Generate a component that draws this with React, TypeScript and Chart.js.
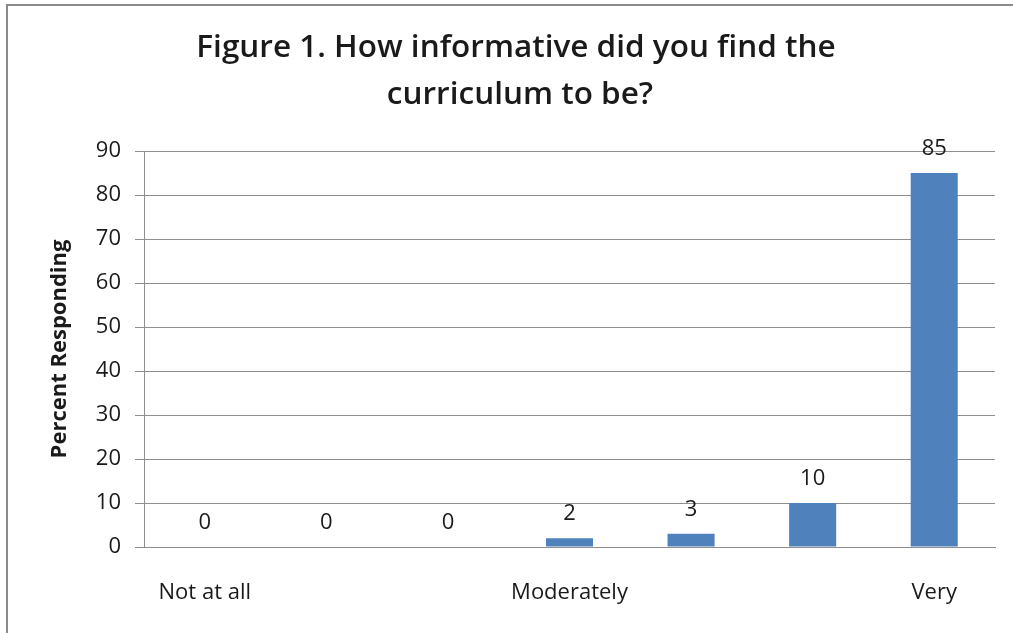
import React, { useEffect, useRef } from "react";
import { Chart, registerables } from "chart.js";

Chart.register(...registerables);

const TITLE_LINES = ["Figure 1. How informative did you find the", "curriculum to be?"];
const CATEGORIES = ["Not at all", "", "", "Moderately", "", "", "Very"];
const VALUES = [0, 0, 0, 2, 3, 10, 85];
const Y_MIN = 0;
const Y_MAX = 90;
const Y_STEP = 10;
const Y_AXIS_TITLE = "Percent Responding";

const BAR_COLOR = "#4f81bd";
const GRID_COLOR = "#8e8e8e";
const TEXT_COLOR = "#1a1a1a";
const FONT = "'Open Sans', 'Noto Sans', sans-serif";

export default function App() {
  const ref = useRef<HTMLCanvasElement | null>(null);

  useEffect(() => {
    if (!ref.current) return;

    const titlePlugin = {
      id: "customTitle",
      afterDraw(chart: any) {
        const ctx = chart.ctx;
        ctx.save();
        ctx.font = `600 31.5px ${FONT}`;
        ctx.fillStyle = TEXT_COLOR;
        ctx.textAlign = "center";
        ctx.textBaseline = "middle";
        ctx.fillText(TITLE_LINES[0], 516, 48);
        ctx.fillText(TITLE_LINES[1], 520, 95);
        ctx.restore();
      },
    };

    const labelPlugin = {
      id: "valueLabels",
      afterDatasetsDraw(chart: any) {
        const ctx = chart.ctx;
        const meta = chart.getDatasetMeta(0);
        ctx.save();
        ctx.font = `22px ${FONT}`;
        ctx.fillStyle = TEXT_COLOR;
        ctx.textAlign = "center";
        ctx.textBaseline = "middle";
        meta.data.forEach((bar: any, i: number) => {
          ctx.fillText(String(VALUES[i]), bar.x, bar.y - 24);
        });
        ctx.restore();
      },
    };

    const chart = new Chart(ref.current, {
      type: "bar",
      data: {
        labels: CATEGORIES,
        datasets: [
          {
            data: VALUES,
            backgroundColor: BAR_COLOR,
            borderWidth: 0,
            barPercentage: 0.387,
            categoryPercentage: 1,
          },
        ],
      },
      options: {
        responsive: false,
        animation: false,
        layout: { padding: { top: 151, right: 18, bottom: 0, left: 0 } },
        plugins: {
          legend: { display: false },
          title: { display: false },
          tooltip: { enabled: false },
        },
        scales: {
          x: {
            grid: { display: false, drawTicks: false },
            border: { display: true, color: GRID_COLOR, width: 1 },
            ticks: {
              font: { family: FONT, size: 22 },
              color: TEXT_COLOR,
              padding: 33,
              autoSkip: false,
              maxRotation: 0,
            },
            afterFit: (s: any) => {
              s.height = 86;
            },
          },
          y: {
            min: Y_MIN,
            max: Y_MAX,
            ticks: {
              stepSize: Y_STEP,
              font: { family: FONT, size: 22 },
              color: TEXT_COLOR,
              padding: 14,
            },
            grid: { color: GRID_COLOR, lineWidth: 1, drawTicks: true, tickLength: 9 },
            border: { display: true, color: GRID_COLOR, width: 1 },
            title: {
              display: true,
              text: Y_AXIS_TITLE,
              font: { family: FONT, size: 22, weight: "bold" },
              color: TEXT_COLOR,
              padding: { top: 47, bottom: 0 },
            },
            afterFit: (s: any) => {
              s.width = 144;
            },
          },
        },
      },
      plugins: [titlePlugin, labelPlugin],
    });

    return () => chart.destroy();
  }, []);

  return (
    <div
      style={{
        position: "fixed",
        left: 0,
        top: 0,
        width: 1013,
        height: 633,
        background: "#fff",
        overflow: "hidden",
      }}
    >
      <div
        style={{
          position: "absolute",
          left: 6,
          top: 4,
          width: 1020,
          height: 640,
          borderTop: "2px solid #8a8a8a",
          borderLeft: "2px solid #8a8a8a",
          boxSizing: "border-box",
        }}
      />
      <canvas
        ref={ref}
        width={1013}
        height={633}
        style={{ position: "absolute", left: 0, top: 0, width: 1013, height: 633 }}
      />
    </div>
  );
}
